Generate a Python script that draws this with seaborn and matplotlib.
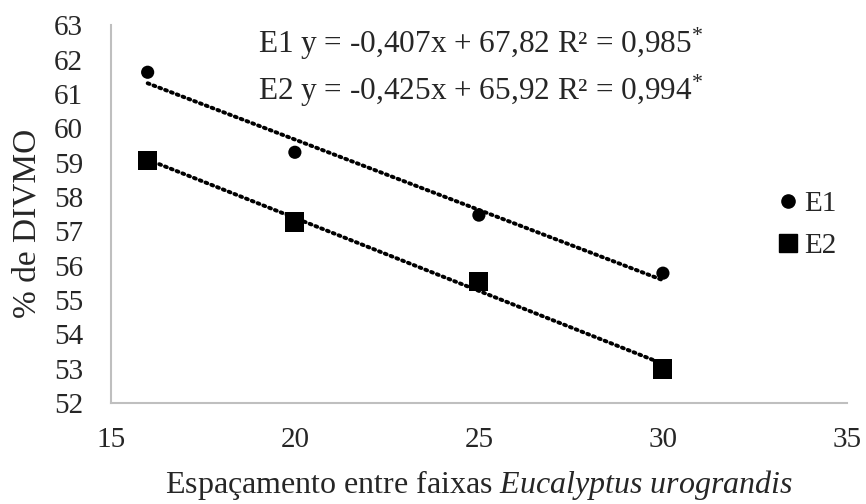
import numpy as np
import pandas as pd
import matplotlib
matplotlib.use("Agg")
import matplotlib.pyplot as plt
import seaborn as sns

# Data
espacamento = [16, 20, 25, 30]
e1_values = [61.63, 59.30, 57.47, 55.78]
e2_values = [59.07, 57.27, 55.55, 52.99]
series_names = ["E1", "E2"]
eq_labels = [
    "E1 y = -0,407x + 67,82 R² = 0,985$^{*}$",
    "E2 y = -0,425x + 65,92 R² = 0,994$^{*}$",
]
x_ticks = [15, 20, 25, 30, 35]
y_ticks = list(range(52, 64))

df = pd.DataFrame({
    "x": espacamento * 2,
    "y": e1_values + e2_values,
    "serie": ["E1"] * 4 + ["E2"] * 4,
})

sns.set_style("white")
plt.rcParams["font.family"] = ["Liberation Serif", "DejaVu Serif"]
plt.rcParams["mathtext.fontset"] = "custom"
plt.rcParams["mathtext.rm"] = "Liberation Serif"
plt.rcParams["mathtext.it"] = "Liberation Serif:italic"

FS = 21

fig = plt.figure(figsize=(8.66, 5.04), dpi=100)
ax = fig.add_axes([0.128, 0.2004, 0.850, 0.7496])

# trend lines
for name in series_names:
    sub = df[df["serie"] == name]
    sns.regplot(data=sub, x="x", y="y", ax=ax, scatter=False, ci=None,
                truncate=True,
                line_kws=dict(color="black", linestyle=(0, (0.5, 1.1)),
                              linewidth=2.8, dash_capstyle="round"))

sns.scatterplot(data=df, x="x", y="y", hue="serie", style="serie",
                palette={"E1": "black", "E2": "black"},
                markers={"E1": "o", "E2": "s"},
                size="serie", sizes={"E1": 90, "E2": 190},
                edgecolor="black", linewidth=0, ax=ax, legend=False, zorder=3)

# legend
from matplotlib.lines import Line2D
handles = [
    Line2D([], [], marker="o", color="black", linestyle="none", markersize=9.5),
    Line2D([], [], marker="s", color="black", linestyle="none", markersize=13.5),
]
leg = ax.legend(handles, series_names, loc="center left",
                bbox_to_anchor=(0.89, 0.471), frameon=False, fontsize=FS,
                borderaxespad=0, borderpad=0,
                handletextpad=-0.2, labelspacing=0.55, handlelength=1.5)

ax.set_xlim(15, 35)
ax.set_ylim(52, 63)
ax.set_xticks(x_ticks)
ax.set_yticks(y_ticks)
ax.tick_params(axis="both", length=0, labelsize=FS)
ax.tick_params(axis="x", pad=17)
ax.tick_params(axis="y", pad=20)

for s in ["top", "right"]:
    ax.spines[s].set_visible(False)
for s in ["left", "bottom"]:
    ax.spines[s].set_color("#BFBFBF")
    ax.spines[s].set_linewidth(1.5)

ax.set_xlabel("Espaçamento entre faixas $\\mathit{Eucalyptus\\ urograndis}$",
              fontsize=23, labelpad=11)
ax.set_ylabel("% de DIVMO", fontsize=24)
ax.yaxis.set_label_coords(-0.093, 0.475)

ax.text(25.05, 62.45, eq_labels[0], ha="center", va="center", fontsize=22.5)
ax.text(25.05, 61.08, eq_labels[1], ha="center", va="center", fontsize=22.5)

fig.savefig("out.png", dpi=100)
